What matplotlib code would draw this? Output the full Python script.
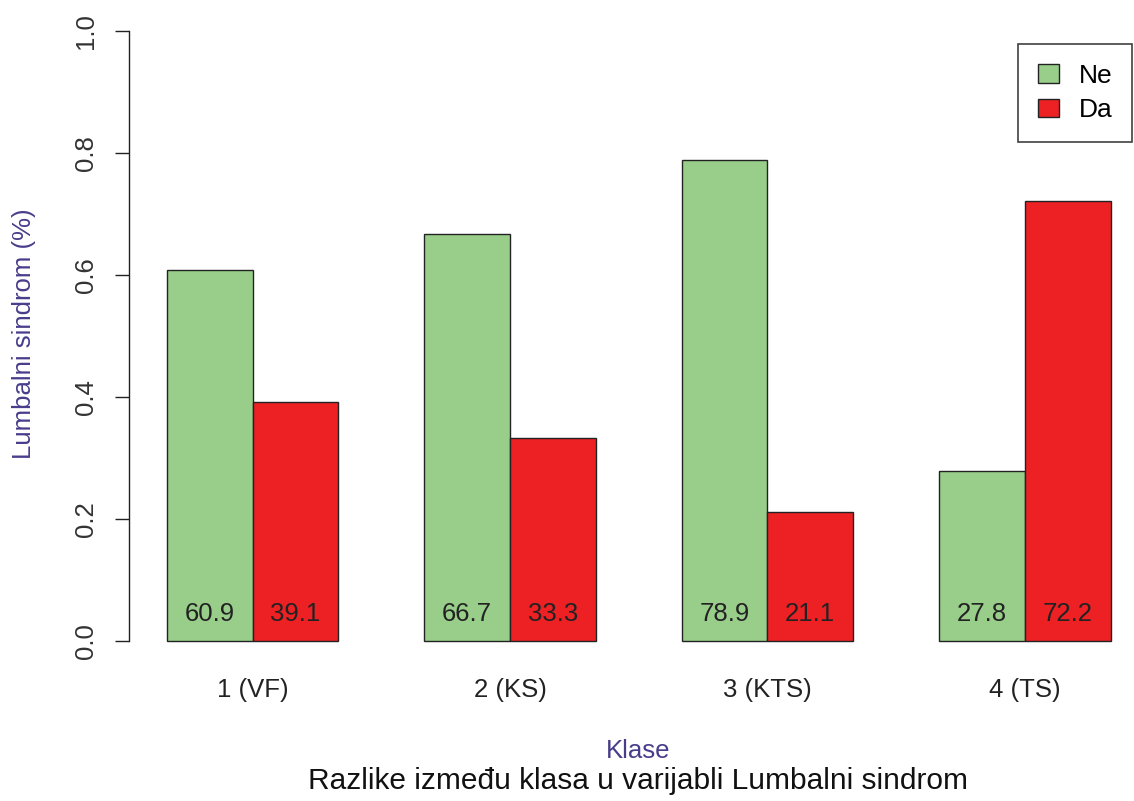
import matplotlib
matplotlib.use("Agg")
import matplotlib.pyplot as plt
from matplotlib.patches import Patch
import numpy as np

plt.rcParams['font.family'] = ['Liberation Sans', 'DejaVu Sans']

categories = ["1 (VF)", "2 (KS)", "3 (KTS)", "4 (TS)"]
series_names = ["Ne", "Da"]
ne_values = [0.609, 0.667, 0.789, 0.278]
da_values = [0.391, 0.333, 0.211, 0.722]
ne_labels = ["60.9", "66.7", "78.9", "27.8"]
da_labels = ["39.1", "33.3", "21.1", "72.2"]

green = "#98CE8A"
red = "#ED2024"
axis_col = "#483D8B"

W, H = 1134, 801
fig = plt.figure(figsize=(W/100, H/100), dpi=100)
left_px, right_px = 129, 1134
bottom_px, top_px = 665.4, 6.6
unit = 85.8
ax = fig.add_axes([left_px/W, (H-bottom_px)/H, (right_px-left_px)/W, (bottom_px-top_px)/H])
ax.set_xlim(0.56, 0.56 + (right_px-left_px)/unit)
ax.set_ylim(-0.04, 1.04)

# R barplot beside=TRUE positions: groups of 2 bars, space 1 between groups
n = len(categories)
ne_x = np.array([1.5 + 3*i for i in range(n)])
da_x = ne_x + 1
ax.bar(ne_x, ne_values, width=1, color=green, edgecolor="#222222", linewidth=1.0)
ax.bar(da_x, da_values, width=1, color=red, edgecolor="#222222", linewidth=1.0)

fs = 18.5
for x, t in zip(ne_x, ne_labels):
    ax.text(x, 0.045, t, ha="center", va="center", fontsize=fs, color="#222222")
for x, t in zip(da_x, da_labels):
    ax.text(x, 0.045, t, ha="center", va="center", fontsize=fs, color="#222222")

for s in ["top", "right", "bottom"]:
    ax.spines[s].set_visible(False)
ax.spines["left"].set_bounds(0, 1)
ax.spines["left"].set_linewidth(1.0)
ax.spines["left"].set_color("#222222")
ax.set_yticks([0, 0.2, 0.4, 0.6, 0.8, 1.0])
ax.set_yticklabels(["0.0", "0.2", "0.4", "0.6", "0.8", "1.0"], rotation=90, va="center", fontsize=fs, color="#333333")
ax.tick_params(axis="y", length=10, width=1.0, color="#222222", pad=12)
ax.set_xticks([])

centers = (ne_x + da_x) / 2
for c, lab in zip(centers, categories):
    ax.text(c, -0.08, lab, ha="center", va="center", fontsize=fs, color="#222222")

fig.text(24 / W, (H - 334) / H, "Lumbalni sindrom (%)", rotation=90, ha="center", va="center",
         fontsize=fs, color=axis_col)
fig.text(638 / W, (H - 751) / H, "Klase", ha="center", va="center", fontsize=fs, color=axis_col)
fig.text(638 / W, (H - 781) / H, "Razlike između klasa u varijabli Lumbalni sindrom", ha="center", va="center",
         fontsize=21.5, color="#111111")

handles = [Patch(facecolor=green, edgecolor="#222222", label="Ne"),
           Patch(facecolor=red, edgecolor="#222222", label="Da")]
leg = ax.legend(handles=handles, loc="upper right", bbox_to_anchor=(1132/W, (H-44)/H),
                bbox_transform=fig.transFigure, prop={'size': 19}, frameon=True, fancybox=False,
                handlelength=0.8, handleheight=0.7, handletextpad=0.75, borderpad=0.75,
                labelspacing=0.4, borderaxespad=0)
leg.get_frame().set_edgecolor("#111111")
leg.get_frame().set_linewidth(1.2)

fig.savefig("out.png", dpi=100)
